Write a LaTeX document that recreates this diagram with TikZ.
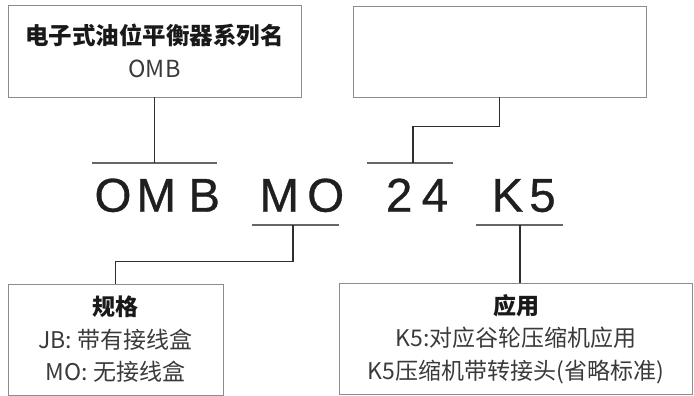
\documentclass[tikz,border=0pt]{standalone}
\usepackage{fontspec}
\setmainfont{Liberation Sans}
\newfontfamily\cjk{Noto Sans CJK SC}
\newfontfamily\codefont{Liberation Sans}[FakeBold=0.7]
\definecolor{boxline}{HTML}{8C8C8C}
\definecolor{barline}{HTML}{666666}
\definecolor{linkline}{HTML}{2E2E2E}
\definecolor{txt}{HTML}{3A3A3A}

\begin{document}
\begin{tikzpicture}[x=1pt,y=-1pt,
  box/.style={draw=boxline,line width=0.9pt,inner sep=0pt,align=center,text=txt},
  bar/.style={draw=barline,line width=1.6pt},
  link/.style={draw=linkline,line width=1.1pt},
  codechar/.style={anchor=base,inner sep=0pt,text=black!88,font=\codefont\fontsize{47.5}{48}\selectfont}]
  \useasboundingbox (0,0) rectangle (694,396);
  \node[box,minimum width=293pt,minimum height=92pt,font=\cjk\fontsize{23.5}{33}\selectfont] (series) at (154.5,51)
    {\textcolor{black!90}{\textbf{电子式油位平衡器系列名}}\\OMB};
  \node[box,minimum width=293pt,minimum height=91pt] (blank) at (499.5,51.5) {};
  \node[box,minimum width=215pt,minimum height=111pt,font=\cjk\fontsize{23}{32.5}\selectfont] (spec) at (115.5,339.5)
    {\textcolor{black!90}{\textbf{规格}}\\JB: 带有接线盒\\MO: 无接线盒};
  \node[box,minimum width=353.5pt,minimum height=111pt,font=\cjk\fontsize{23}{32.5}\selectfont] (app) at (516,339)
    {\textcolor{black!90}{\textbf{应用}}\\K5:对应谷轮压缩机应用\\K5压缩机带转接头(省略标准)};
  \foreach \ch/\px [count=\i] in {O/113,M/156.2,B/204.2,M/279.2,O/325.7,2/399.2,4/435,K/507.5,5/542.5}
    \node[codechar] (ch\i) at (\px,211.7) {\ch};
  \coordinate (ombTap) at (154.5,162.7);
  \coordinate (numTap) at (413,162.7);
  \coordinate (moTap) at (293,225);
  \coordinate (kTap) at (520,225);
  \draw[bar] (92,162.7) -- (217,162.7);
  \draw[bar] (366.7,162.7) -- (452.7,162.7);
  \draw[bar] (251.7,225) -- (339.3,225);
  \draw[bar] (476,225) -- (563.3,225);
  \draw[link] (series.south) -- (ombTap);
  \draw[link] (blank.south) -- ++(0,29) -| (numTap);
  \draw[link] (moTap) -- ++(0,36.7) -| (spec.north);
  \draw[link] (kTap) -- (kTap |- app.north);
\end{tikzpicture}
\end{document}
